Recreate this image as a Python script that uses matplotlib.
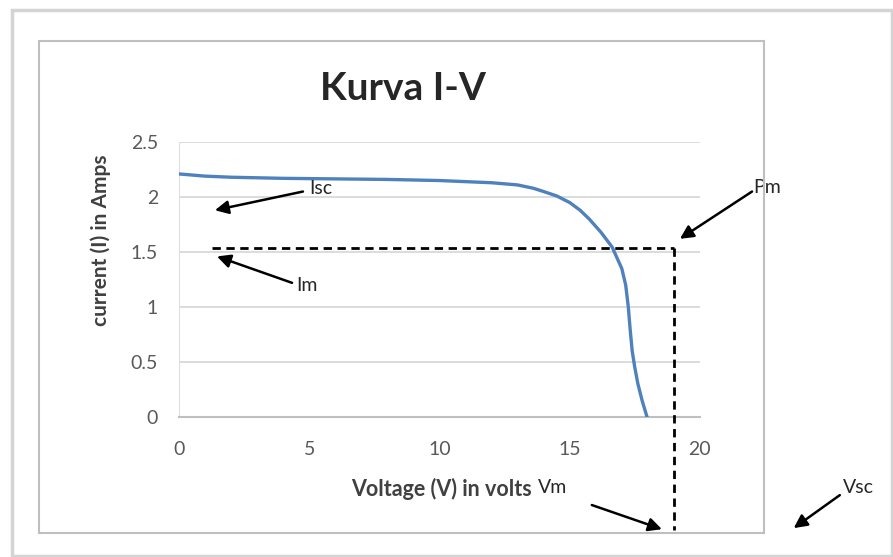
import matplotlib.pyplot as plt
from matplotlib.patches import Rectangle

plt.rcParams['font.family'] = ['Lato', 'DejaVu Sans']

# I-V curve
voltage = [0, 1, 2, 4, 6, 8, 10, 11, 12, 13, 13.6, 14, 14.5, 15, 15.4, 15.75,
           16.2, 16.63, 17.0, 17.15, 17.25, 17.32, 17.4, 17.5, 17.62, 17.78, 17.97]
current = [2.21, 2.19, 2.18, 2.17, 2.165, 2.16, 2.15, 2.14, 2.13, 2.11, 2.08, 2.05,
           2.01, 1.95, 1.88, 1.80, 1.68, 1.545, 1.35, 1.2, 1.0, 0.8, 0.6, 0.45, 0.3, 0.15, 0.0]

v_m = 19.0
i_m = 1.54
x_ticks = [0, 5, 10, 15, 20]
y_ticks = [0, 0.5, 1, 1.5, 2, 2.5]

fig = plt.figure(figsize=(8.93, 5.57), dpi=100)
fig.patches.append(Rectangle((0.0134, 0.0018), 0.985, 0.980, transform=fig.transFigure,
                             fill=False, edgecolor='#d4d4d4', lw=2.5))
fig.patches.append(Rectangle((0.0437, 0.0431), 0.8119, 0.8833, transform=fig.transFigure,
                             fill=False, edgecolor='#bfbfbf', lw=1.5))

ax = fig.add_axes([0.2004, 0.2513, 0.5834, 0.4937])
ax.plot(voltage, current, color='#4F81BD', lw=2.4, zorder=3)

# Im / Vm dashed guide lines
ax.plot([1.26, v_m], [i_m, i_m], color='black', lw=2, ls=(0, (3, 2)), zorder=4)
ax.plot([v_m, v_m], [i_m, -1.03], color='black', lw=2, ls=(0, (3, 2)), zorder=4, clip_on=False)

ax.set_xlim(0, 20)
ax.set_ylim(0, 2.5)
ax.set_xticks(x_ticks)
ax.set_yticks(y_ticks)
ax.set_yticklabels(['0', '0.5', '1', '1.5', '2', '2.5'])
ax.tick_params(length=0, labelsize=14, labelcolor='#595959')
ax.tick_params(axis='x', pad=17)
ax.tick_params(axis='y', pad=15)
ax.grid(axis='y', color='#d9d9d9', lw=1.3)
for s in ['top', 'right']:
    ax.spines[s].set_visible(False)
ax.spines['bottom'].set_color('#bfbfbf')
ax.spines['bottom'].set_linewidth(1.5)
ax.spines['left'].set_color('#e0e0e0')

ax.set_xlabel('Voltage (V) in volts', fontsize=15.5, fontweight='bold', color='#404040')
ax.xaxis.set_label_coords(0.503, -0.222)
ax.set_ylabel('current (I) in Amps', fontsize=15, fontweight='bold', color='#404040')
ax.yaxis.set_label_coords(-0.13, 0.644)

fig.text(0.451, 0.842, 'Kurva I-V', fontsize=28, fontweight='bold', color='#262626',
         ha='center', va='center')

arrow = dict(arrowstyle='-|>', color='black', lw=1.8, mutation_scale=20, shrinkA=0, shrinkB=0)
notes = [
    ('Isc', (5.0, 2.08), (4.76, 2.05), (1.38, 1.88)),
    ('Im', (4.5, 1.20), (4.34, 1.22), (1.46, 1.46)),
    ('Pm', (22.05, 2.09), (22.0, 2.05), (19.23, 1.62)),
    ('Vm', (13.8, -0.645), (15.85, -0.80), (18.54, -1.02)),
    ('Vsc', (25.5, -0.64), (25.37, -0.71), (23.6, -1.01)),
]
for label, txt, tail, head in notes:
    ax.text(txt[0], txt[1], label, fontsize=14, color='#262626', va='center', ha='left',
            clip_on=False)
    ax.annotate('', xy=head, xytext=tail, arrowprops=arrow, annotation_clip=False)

fig.savefig('out.png', dpi=100, facecolor='white')
